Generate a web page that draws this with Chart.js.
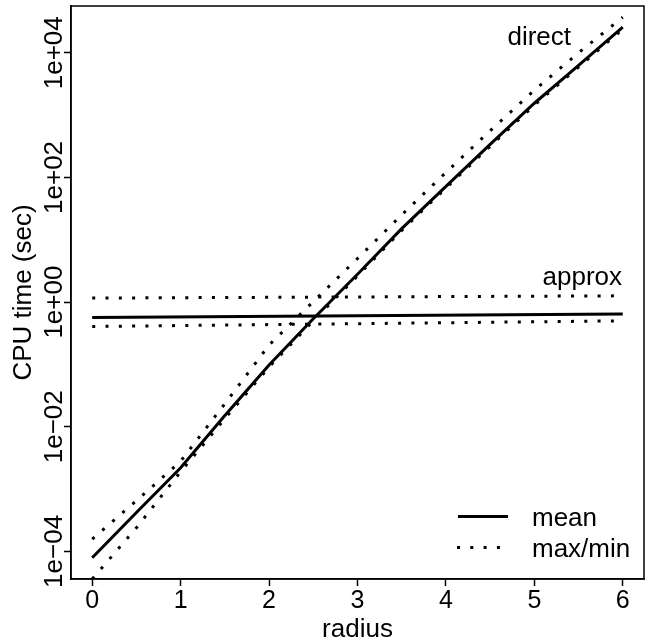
<!DOCTYPE html>
<html><head><meta charset="utf-8">
<script src="https://cdn.jsdelivr.net/npm/chart.js@4"></script>
<style>html,body{margin:0;padding:0;background:#fff}#wrap{width:652px;height:644px;position:relative}</style>
</head><body><div id="wrap"><canvas id="c"></canvas></div>
<script>
// ---- data ----
const radius      = [0, 0.5, 1, 1.5, 2, 2.5, 3, 3.5, 4, 4.5, 5, 5.5, 6];
const directMean  = [7.9e-5, 4.2e-4, 2.2e-3, 0.0151, 0.098, 0.54, 2.8, 15.1, 72, 339, 1550, 6300, 25700];
const directMax   = [1.58e-4, 6.5e-4, 2.8e-3, 0.0234, 0.204, 1.02, 5.0, 25.1, 120, 562, 2510, 10000, 37150];
const directMin   = [3.6e-5, 2.4e-4, 1.9e-3, 0.0135, 0.091, 0.50, 2.63, 14.1, 67.6, 316, 1445, 5890, 24000];
const approxRadius = [0, 6];
const approxMean  = [0.566, 0.643];
const approxMax   = [1.16, 1.26];
const approxMin   = [0.406, 0.50];
const xTicks      = [0, 1, 2, 3, 4, 5, 6];
const yTicks      = [1e-4, 1e-2, 1, 1e2, 1e4];
const yTickLabels = ['1e\u221204', '1e\u221202', '1e+00', '1e+02', '1e+04'];
const xTitle = 'radius';
const yTitle = 'CPU time (sec)';
const seriesNames = ['direct', 'approx'];
const legendNames = ['mean', 'max/min'];

// ---- helpers ----
const FONT = 'Liberation Sans, Arial, Helvetica, sans-serif';
const FS = 26;
const TFS = 25;
const pts = (xs, ys) => xs.map((x, i) => ({x: x, y: ys[i]}));
const DOT = [3, 10.3];
const solid = (d) => ({data: d, borderColor: '#000', borderWidth: 3, pointRadius: 0, tension: 0, fill: false, borderCapStyle: 'butt'});
const dotted = (d) => ({data: d, borderColor: '#000', borderWidth: 3, pointRadius: 0, tension: 0, fill: false, borderDash: DOT, borderCapStyle: 'butt'});

// R-style 4% range extension
const ext = (lo, hi) => { const r = hi - lo; return [lo - 0.04 * r, hi + 0.04 * r]; };
const [xmin, xmax] = ext(Math.min(...radius), Math.max(...radius));
const allMeans = directMean.concat(approxMean);
const [lymin, lymax] = ext(Math.log10(Math.min(...allMeans)), Math.log10(Math.max(...allMeans)));

const framePlugin = {
  id: 'frame',
  afterDraw(chart) {
    const {ctx, chartArea: a} = chart;
    ctx.save();
    ctx.strokeStyle = '#000';
    ctx.lineWidth = 1.5;
    ctx.strokeRect(a.left, a.top, a.right - a.left, a.bottom - a.top);
    // series labels
    ctx.fillStyle = '#000';
    ctx.font = FS + 'px ' + FONT;
    ctx.textAlign = 'right';
    ctx.textBaseline = 'alphabetic';
    ctx.fillText(seriesNames[0], 571, 45);
    ctx.fillText(seriesNames[1], 622, 285);
    // legend
    ctx.lineWidth = 3;
    ctx.lineCap = 'butt';
    ctx.beginPath(); ctx.moveTo(458, 516.5); ctx.lineTo(508, 516.5); ctx.stroke();
    ctx.setLineDash(DOT);
    ctx.beginPath(); ctx.moveTo(457, 547.5); ctx.lineTo(508, 547.5); ctx.stroke();
    ctx.setLineDash([]);
    ctx.textAlign = 'left';
    ctx.fillText(legendNames[0], 532, 526);
    ctx.fillText(legendNames[1], 532, 557);
    ctx.restore();
  }
};

new Chart(document.getElementById('c'), {
  type: 'line',
  data: {
    datasets: [
      solid(pts(radius, directMean)),
      dotted(pts(radius, directMax)),
      dotted(pts(radius, directMin)),
      solid(pts(approxRadius, approxMean)),
      dotted(pts(approxRadius, approxMax)),
      dotted(pts(approxRadius, approxMin))
    ]
  },
  options: {
    responsive: true,
    maintainAspectRatio: false,
    animation: false,
    events: [],
    layout: {padding: {top: 6, right: 8, left: 0, bottom: 0}},
    plugins: {legend: {display: false}, tooltip: {enabled: false}},
    scales: {
      x: {
        type: 'linear',
        min: xmin, max: xmax,
        afterBuildTicks: (s) => { s.ticks = xTicks.map(v => ({value: v})); },
        afterFit: (s) => { s.height = 65; },
        grid: {display: true, drawOnChartArea: false, drawTicks: true, tickLength: 7, tickColor: '#000', tickWidth: 1.5},
        border: {display: true, color: '#000', width: 1.5},
        ticks: {color: '#000', font: {family: FONT, size: TFS}, padding: 0, maxRotation: 0, autoSkip: false,
                callback: (v) => String(v)},
        title: {display: true, text: xTitle, color: '#000', font: {family: FONT, size: FS}, padding: {top: 0, bottom: -1}}
      },
      y: {
        type: 'logarithmic',
        min: Math.pow(10, lymin), max: Math.pow(10, lymax),
        afterBuildTicks: (s) => { s.ticks = yTicks.map(v => ({value: v})); },
        afterFit: (s) => { s.width = 71; },
        grid: {display: true, drawOnChartArea: false, drawTicks: true, tickLength: 7, tickColor: '#000', tickWidth: 1.5},
        border: {display: true, color: '#000', width: 1.5},
        ticks: {color: '#000', font: {family: FONT, size: FS}, minRotation: 90, maxRotation: 90, crossAlign: 'center',
                padding: -27, autoSkip: false,
                callback: (v) => { const i = yTicks.findIndex(t => Math.abs(t - v) / t < 1e-9); return i >= 0 ? yTickLabels[i] : ''; }},
        title: {display: true, text: yTitle, color: '#000', font: {family: FONT, size: FS}, padding: {top: 8.5, bottom: 0}}
      }
    }
  },
  plugins: [framePlugin]
});
</script>
</body></html>
